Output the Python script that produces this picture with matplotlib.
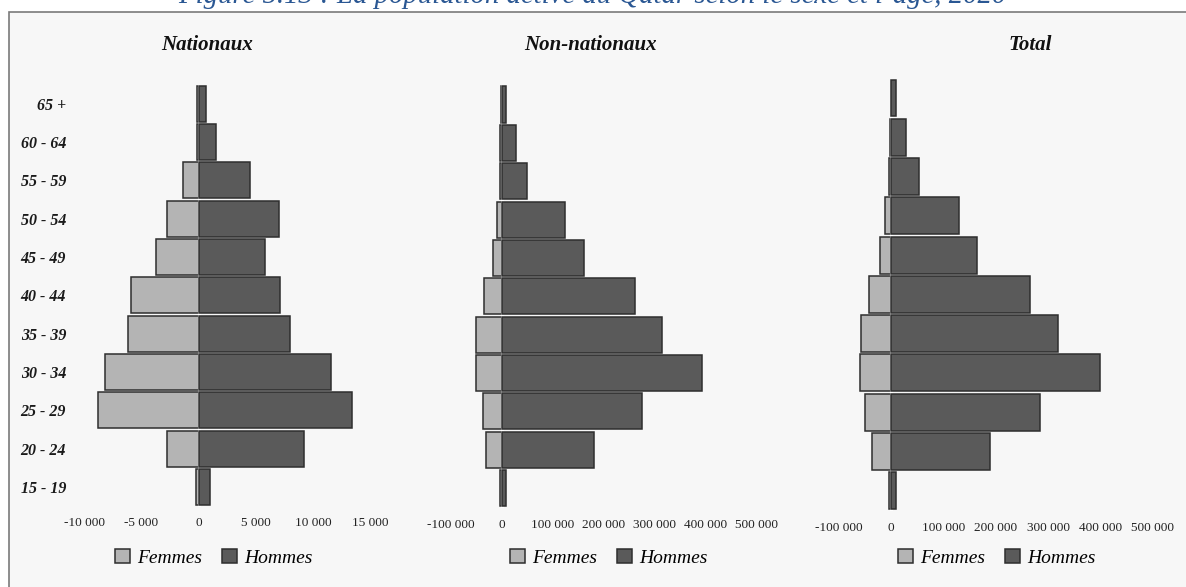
import matplotlib
matplotlib.use("Agg")
import matplotlib.pyplot as plt
from matplotlib.patches import Rectangle

# ---------------- data ----------------
age_groups = ["15 - 19", "20 - 24", "25 - 29", "30 - 34", "35 - 39", "40 - 44",
              "45 - 49", "50 - 54", "55 - 59", "60 - 64", "65 +"]

nat_femmes = [-250, -2800, -8850, -8200, -6150, -5900, -3750, -2800, -1400, -150, -150]
nat_hommes = [990, 9200, 13450, 11600, 7950, 7150, 5800, 7050, 4500, 1550, 650]

nonnat_femmes = [-2000, -31000, -37000, -50000, -50000, -35000, -17000, -9000, -3000, -2000, -1500]
nonnat_hommes = [8000, 182000, 275000, 393000, 314000, 262000, 161000, 125000, 50000, 27500, 8000]

tot_femmes = [-5000, -37000, -50000, -60000, -57000, -42000, -22000, -12000, -4400, -2000, -1500]
tot_hommes = [8300, 189000, 284000, 399000, 319000, 266000, 164000, 129000, 53000, 28000, 8300]

panel_titles = ["Nationaux", "Non-nationaux", "Total"]
legend_labels = ["Femmes", "Hommes"]

nat_ticks = [-10000, -5000, 0, 5000, 10000, 15000]
nat_ticklabels = ["-10 000", "-5 000", "0", "5 000", "10 000", "15 000"]
big_ticks = [-100000, 0, 100000, 200000, 300000, 400000, 500000]
big_ticklabels = ["-100 000", "0", "100 000", "200 000", "300 000", "400 000", "500 000"]

fig_title = "Figure 5.13 : La population active du Qatar selon le sexe et l\u2019âge, 2020"

# ---------------- style ----------------
W, H = 1186, 587
FEM_COLOR = "#b4b4b4"
HOM_COLOR = "#5a5a5a"
EDGE = "#2e2e2e"
SERIF = ["Liberation Serif", "DejaVu Serif"]

fig = plt.figure(figsize=(W / 100, H / 100), dpi=100)
fig.patch.set_facecolor("white")

# framed background panel
bg = Rectangle((9 / W, -0.1), 1.2, 1.1 - 11.5 / H, transform=fig.transFigure,
               facecolor="#f7f7f7", edgecolor="#7a7a7a", linewidth=1.2, zorder=-5)
fig.patches.append(bg)

fig.text(592 / W, 1 - 3 / H, fig_title, ha="center", va="baseline",
         fontsize=20.7, style="italic", color="#2a5793", family=SERIF, zorder=-4)


def px_axes(x0, x1, y_top, y_bot):
    return fig.add_axes([x0 / W, 1 - y_bot / H, (x1 - x0) / W, (y_bot - y_top) / H])


panels = [
    dict(box=(73.0, 381.5, 103.7 - 0.6 * 38.3, 487.0 + 0.6 * 38.3), xlim=(-11000, 16000),
         fem=nat_femmes, hom=nat_hommes, ticks=nat_ticks, labels=nat_ticklabels,
         title_x=207, leg_x=214, tick_y=523),
    dict(box=(501.5 - 0.00051 * 120000, 501.5 + 0.00051 * 520000, 104.5 - 0.6 * 38.34, 487.9 + 0.6 * 38.34),
         xlim=(-120000, 520000),
         fem=nonnat_femmes, hom=nonnat_hommes, ticks=big_ticks, labels=big_ticklabels,
         title_x=590, leg_x=609, tick_y=525),
    dict(box=(891.3 - 0.000523 * 120000, 891.3 + 0.000523 * 520000, 98.0 - 0.6 * 39.27, 490.7 + 0.6 * 39.27),
         xlim=(-120000, 520000),
         fem=tot_femmes, hom=tot_hommes, ticks=big_ticks, labels=big_ticklabels,
         title_x=1030, leg_x=997, tick_y=528),
]

ypos = list(range(len(age_groups)))
n = len(age_groups)
span = n + 0.2

for i, p in enumerate(panels):
    x0, x1, yt, yb = p["box"]
    ax = px_axes(x0, x1, yt, yb)
    ax.set_facecolor("none")
    ax.set_zorder(2)
    fb = ax.barh(ypos, p["fem"], height=0.94, color=FEM_COLOR, edgecolor=EDGE,
                 linewidth=1.1, zorder=2, label=legend_labels[0])
    ax.axvline(0, ymin=0.13 / span, ymax=1 - 0.13 / span,
               color="white", linewidth=2.2, zorder=3)
    hb = ax.barh(ypos, p["hom"], height=0.94, color=HOM_COLOR, edgecolor=EDGE,
                 linewidth=1.1, zorder=4, label=legend_labels[1])
    ax.set_xlim(*p["xlim"])
    ax.set_ylim(-0.6, n - 0.4)
    for s in ax.spines.values():
        s.set_visible(False)
    ax.set_xticks(p["ticks"])
    ax.set_xticklabels(p["labels"], fontsize=9.5, family=SERIF, color="#222222")
    ax.tick_params(axis="x", length=0, pad=(p["tick_y"] - yb) * 0.72 - 4.5)
    if i == 0:
        ax.set_yticks(ypos)
        ax.set_yticklabels(age_groups, fontsize=11.5, family=SERIF, style="italic",
                           fontweight="bold", color="#1a1a1a")
        ax.tick_params(axis="y", length=0, pad=5)
    else:
        ax.set_yticks([])

    fig.text(p["title_x"] / W, 1 - 45 / H, panel_titles[i], ha="center", va="center",
             fontsize=15, style="italic", fontweight="bold", family=SERIF, color="#111111")

    fig.legend(handles=[fb, hb], labels=legend_labels, loc="center",
               bbox_to_anchor=(p["leg_x"] / W, 1 - 558 / H), ncol=2, frameon=False,
               handlelength=0.75, handleheight=0.75, handletextpad=0.4, columnspacing=1.0,
               prop=dict(family=SERIF, style="italic", size=14))

fig.savefig("out.png", dpi=100, facecolor=fig.get_facecolor())
